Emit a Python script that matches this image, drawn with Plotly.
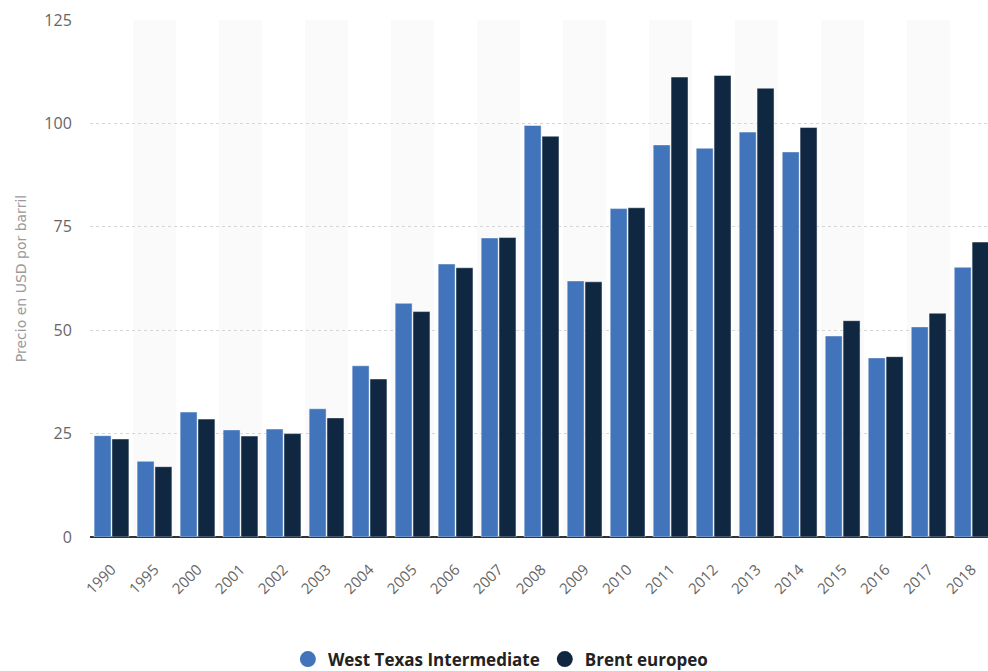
import plotly.graph_objects as go

years = ["1990", "1995", "2000", "2001", "2002", "2003", "2004", "2005", "2006", "2007",
         "2008", "2009", "2010", "2011", "2012", "2013", "2014", "2015", "2016", "2017", "2018"]
wti = [24.5, 18.3, 30.2, 25.9, 26.1, 31.0, 41.4, 56.5, 66.0, 72.3,
       99.5, 61.9, 79.4, 94.8, 94.0, 97.9, 93.1, 48.6, 43.3, 50.8, 65.2]
brent = [23.7, 17.0, 28.5, 24.4, 25.0, 28.8, 38.2, 54.5, 65.1, 72.4,
         96.9, 61.7, 79.6, 111.2, 111.6, 108.5, 99.0, 52.3, 43.6, 54.1, 71.3]

series_names = ["West Texas Intermediate", "Brent europeo"]
series_colors = ["#4174ba", "#0f2740"]
y_ticks = [0, 25, 50, 75, 100, 125]

fig = go.Figure()

for name, vals, col in zip(series_names, [wti, brent], series_colors):
    fig.add_trace(go.Bar(
        x=years, y=vals, name=name, showlegend=False,
        marker=dict(color=col, line=dict(color="rgba(255,255,255,0.45)", width=1)),
    ))

# legend entries drawn as circles
for name, col in zip(series_names, series_colors):
    fig.add_trace(go.Scatter(
        x=[None], y=[None], mode="markers", name=name,
        marker=dict(symbol="circle", size=18, color=col),
    ))

# alternating light bands behind every other year
shapes = []
for i in range(len(years)):
    if i % 2 == 1:
        shapes.append(dict(type="rect", xref="x", yref="paper",
                           x0=i - 0.5, x1=i + 0.5, y0=0, y1=1,
                           fillcolor="#fafafa", line=dict(width=0), layer="below"))

fig.update_layout(
    width=988, height=671,
    margin=dict(l=90, r=0, t=20, b=134, autoexpand=False),
    plot_bgcolor="white", paper_bgcolor="white",
    barmode="group", bargap=0.17, bargroupgap=0.05,
    shapes=shapes,
    font=dict(family="Open Sans", color="#666666"),
    showlegend=True,
    legend=dict(orientation="h", x=0.457, xanchor="center", y=-0.237, yanchor="middle",
                font=dict(family="Open Sans", size=17, color="#222222", weight="bold"),
                itemsizing="trace", itemwidth=30, tracegroupgap=0),
)

fig.update_xaxes(
    type="category", range=[-0.5, 20.38], tickangle=-45,
    tickfont=dict(size=15, color="#666666"),
    ticks="outside", ticklen=17, tickcolor="rgba(0,0,0,0)",
    showgrid=False, showline=False, zeroline=False, fixedrange=True,
    automargin=False,
)

fig.update_yaxes(
    range=[0, 125], tickvals=y_ticks,
    tickfont=dict(size=16, color="#666666"),
    ticks="outside", ticklen=14, tickcolor="rgba(0,0,0,0)",
    showgrid=True, gridcolor="#d6d6d6", griddash="dot", gridwidth=1,
    zeroline=True, zerolinecolor="#333333", zerolinewidth=2,
    title=dict(text="Precio en USD por barril", font=dict(family="DejaVu Sans", size=14, color="#9a9a9a"), standoff=14),
    fixedrange=True, automargin=False,
)

fig.write_html("out.html")
